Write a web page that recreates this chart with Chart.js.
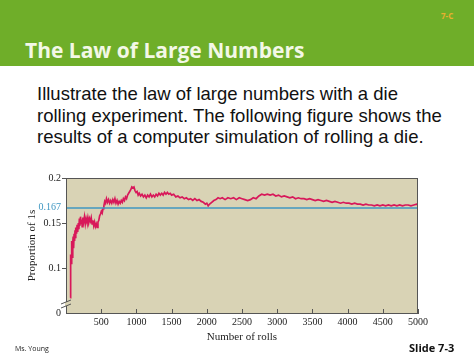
<!DOCTYPE html>
<html lang="en">
<head>
    <meta charset="UTF-8">
    <title>The Law of Large Numbers</title>
    <style>
        body {
            margin: 0;
            width: 474px;
            height: 355px;
            overflow: hidden;
            background: #ffffff;
            position: relative;
            font-family: "Liberation Sans", Arial, sans-serif;
        }
        .header {
            position: absolute;
            left: 0; top: 0;
            width: 474px; height: 66px;
            background: #6fae29;
        }
        .title {
            position: absolute;
            left: 25px; top: 36px;
            font-family: "Open Sans", "DejaVu Sans", sans-serif;
            font-weight: bold;
            font-size: 21px;
            color: #f3f8e6;
            white-space: nowrap;
        }
        .code {
            position: absolute;
            left: 441px; top: 10px;
            font-family: "Open Sans", sans-serif;
            font-weight: bold;
            font-size: 8px;
            color: #e8b030;
        }
        .body-text {
            position: absolute;
            left: 37px; top: 83px;
            font-size: 18.5px;
            line-height: 21.5px;
            color: #111;
            white-space: nowrap;
        }
        .footer-left {
            position: absolute;
            left: 15px; top: 344px;
            font-family: "Open Sans", sans-serif;
            font-size: 7px;
            color: #222;
        }
        .footer-right {
            position: absolute;
            left: 409px; top: 340px;
            font-family: "Open Sans", sans-serif;
            font-weight: bold;
            font-size: 11px;
            color: #111;
        }
        #rollsChart {
            position: absolute;
            left: 0; top: 165px;
        }
    </style>
</head>
<body>

<div class="header"></div>
<div class="code">7-C</div>
<div class="title">The Law of Large Numbers</div>
<div class="body-text">Illustrate the law of large numbers with a die<br>rolling experiment. The following figure shows the<br>results of a computer simulation of rolling a die.</div>
<canvas id="rollsChart" width="474" height="190"></canvas>
<div class="footer-left">Ms. Young</div>
<div class="footer-right">Slide 7-3</div>

<script src="https://cdn.jsdelivr.net/npm/chart.js"></script>
<script>
    // number of rolls (x) and running proportion of 1s (y)
    const rolls = [
        60, 64, 68, 72, 78, 84, 90, 96, 102, 108, 115, 122, 128, 135, 142, 150, 158, 166, 175, 183,
        190, 198, 206, 214, 222, 230, 240, 250, 262, 274, 286, 298, 310, 322, 334, 346, 358, 370, 382, 394,
        406, 418, 430, 442, 454, 466, 478, 490, 502, 514, 526, 538, 550, 562, 575, 590, 605, 620, 635, 650,
        665, 680, 695, 710, 725, 740, 755, 770, 785, 800, 815, 830, 845, 860, 875, 890, 905, 920, 935, 950,
        965, 980, 995, 1010, 1025, 1040, 1060, 1080, 1100, 1120, 1140, 1160, 1180, 1200, 1220, 1240, 1260, 1280, 1300, 1320,
        1340, 1360, 1380, 1400, 1420, 1440, 1460, 1480, 1500, 1530, 1560, 1590, 1620, 1650, 1680, 1710, 1740, 1770, 1800, 1830,
        1860, 1890, 1920, 1950, 1980, 2000, 2020, 2040, 2070, 2100, 2130, 2160, 2190, 2220, 2260, 2300, 2340, 2380, 2420, 2460,
        2500, 2540, 2580, 2620, 2660, 2700, 2740, 2780, 2820, 2860, 2900, 2940, 2980, 3020, 3060, 3100, 3140, 3180, 3220, 3260,
        3300, 3340, 3380, 3420, 3460, 3500, 3540, 3580, 3620, 3660, 3700, 3740, 3780, 3820, 3860, 3900, 3940, 3980, 4020, 4060,
        4100, 4140, 4180, 4220, 4260, 4300, 4340, 4380, 4420, 4460, 4500, 4540, 4580, 4620, 4660, 4700, 4740, 4780, 4820, 4860,
        4900, 4940, 4980, 5000
    ];
    const proportion = [
        0.067, 0.090, 0.115, 0.105, 0.120, 0.130, 0.112, 0.128, 0.135, 0.122, 0.138, 0.130, 0.142, 0.133, 0.145, 0.138, 0.148, 0.140, 0.150, 0.143,
        0.155, 0.147, 0.157, 0.150, 0.154, 0.146, 0.156, 0.151, 0.157, 0.149, 0.155, 0.151, 0.156, 0.150, 0.155, 0.152, 0.156, 0.149, 0.153, 0.147,
        0.151, 0.146, 0.149, 0.145, 0.151, 0.153, 0.158, 0.160, 0.163, 0.161, 0.166, 0.169, 0.174, 0.172, 0.177, 0.173, 0.176, 0.172, 0.175, 0.172,
        0.176, 0.173, 0.177, 0.172, 0.175, 0.171, 0.174, 0.172, 0.175, 0.173, 0.177, 0.175, 0.179, 0.177, 0.181, 0.183, 0.185, 0.187, 0.190, 0.189,
        0.190, 0.186, 0.184, 0.185, 0.181, 0.183, 0.180, 0.182, 0.179, 0.181, 0.178, 0.181, 0.179, 0.182, 0.179, 0.181, 0.179, 0.182, 0.180, 0.183,
        0.181, 0.183, 0.181, 0.184, 0.182, 0.184, 0.182, 0.183, 0.181, 0.182, 0.179, 0.180, 0.178, 0.179, 0.177, 0.178, 0.176, 0.177, 0.175, 0.177,
        0.175, 0.176, 0.174, 0.173, 0.171, 0.172, 0.169, 0.171, 0.173, 0.175, 0.176, 0.178, 0.177, 0.178, 0.176, 0.178, 0.177, 0.178, 0.176, 0.178,
        0.177, 0.176, 0.175, 0.176, 0.178, 0.177, 0.180, 0.182, 0.181, 0.182, 0.181, 0.182, 0.180, 0.181, 0.179, 0.180, 0.179, 0.178, 0.179, 0.177,
        0.178, 0.177, 0.177, 0.176, 0.177, 0.176, 0.175, 0.176, 0.175, 0.174, 0.175, 0.174, 0.173, 0.174, 0.173, 0.172, 0.173, 0.172, 0.172, 0.171,
        0.172, 0.171, 0.171, 0.170, 0.171, 0.170, 0.170, 0.169, 0.170, 0.169, 0.170, 0.169, 0.170, 0.169, 0.170, 0.169, 0.170, 0.169, 0.170, 0.170,
        0.169, 0.170, 0.171, 0.170
    ];
    const expectedValue = 1 / 6;      // drawn as 0.167 reference line
    const expectedRange = [0, 5000];
    const yTicks = [0.05, 0.1, 0.15, 0.167, 0.2];   // 0.05 is shown as "0" (broken axis)
    const xMax = 5000;

    const plotBg = '#d9d3b5';
    const frameColor = '#555555';
    const blue = '#3f97c2';

    // tan plot background, box frame, inward x ticks, axis break
    const framePlugin = {
        id: 'frame',
        beforeDatasetsDraw(chart) {
            const a = chart.chartArea;
            const c = chart.ctx;
            c.save();
            c.fillStyle = plotBg;
            c.fillRect(a.left, a.top, a.right - a.left, a.bottom - a.top);
            c.restore();
        },
        afterDraw(chart) {
            const a = chart.chartArea;
            const c = chart.ctx;
            const xs = chart.scales.x;
            c.save();
            c.strokeStyle = frameColor;
            c.lineWidth = 1;
            c.strokeRect(a.left + 0.5, a.top + 0.5, a.right - a.left - 1, a.bottom - a.top);
            // ticks pointing up from the bottom axis
            xs.ticks.forEach(t => {
                if (t.value === 0) return;
                const px = Math.round(xs.getPixelForValue(t.value)) + 0.5;
                c.beginPath();
                c.moveTo(px, a.bottom);
                c.lineTo(px, a.bottom - 4);
                c.stroke();
            });
            // break on the y axis near the bottom
            const yb = a.bottom - 9;
            c.fillStyle = plotBg;
            c.fillRect(a.left - 1, yb - 2, 3, 4);
            c.beginPath();
            c.moveTo(a.left - 5, yb - 0);
            c.lineTo(a.left + 5, yb - 4);
            c.moveTo(a.left - 5, yb + 4);
            c.lineTo(a.left + 5, yb + 0);
            c.stroke();
            c.restore();
        }
    };

    const serif = '"Liberation Serif", "DejaVu Serif", serif';

    new Chart(document.getElementById('rollsChart').getContext('2d'), {
        type: 'line',
        data: {
            datasets: [{
                data: expectedRange.map(x => ({ x: x, y: expectedValue })),
                borderColor: blue,
                borderWidth: 1.5,
                pointRadius: 0
            }, {
                data: rolls.map((r, i) => ({ x: r, y: proportion[i] })),
                borderColor: '#d8185a',
                borderWidth: 1.7,
                pointRadius: 0,
                tension: 0
            }]
        },
        options: {
            responsive: false,
            animation: false,
            devicePixelRatio: 1,
            layout: { padding: { top: 13, right: 56, bottom: 0, left: 0 } },
            plugins: {
                legend: { display: false },
                tooltip: { enabled: false }
            },
            scales: {
                x: {
                    type: 'linear',
                    min: 0,
                    max: xMax,
                    afterFit(scale) { scale.height = 42; },
                    ticks: {
                        stepSize: 500,
                        padding: 3,
                        maxRotation: 0,
                        color: '#222',
                        font: { family: serif, size: 10 },
                        callback: v => v === 0 ? '' : v
                    },
                    grid: { drawOnChartArea: false, drawTicks: false },
                    border: { color: frameColor },
                    title: {
                        display: true,
                        text: 'Number of rolls',
                        color: '#222',
                        font: { family: serif, size: 11 },
                        padding: { top: 0, bottom: 11 }
                    }
                },
                y: {
                    type: 'linear',
                    min: 0.05,
                    max: 0.2,
                    afterFit(scale) { scale.width = 66; },
                    afterBuildTicks(scale) {
                        scale.ticks = yTicks.map(v => ({ value: v }));
                    },
                    ticks: {
                        padding: 1,
                        font: { family: serif, size: 10 },
                        color: ctx => ctx.tick.value === 0.167 ? blue : '#222',
                        callback: v => v === 0.05 ? '0' : String(v)
                    },
                    grid: {
                        drawOnChartArea: false,
                        tickLength: 4,
                        color: ctx => (ctx.tick && (ctx.tick.value === 0.167 || ctx.tick.value === 0.05)) ? 'rgba(0,0,0,0)' : frameColor
                    },
                    border: { color: frameColor },
                    title: {
                        display: true,
                        text: 'Proportion of 1s',
                        color: '#222',
                        font: { family: serif, size: 11 },
                        padding: { top: 26, bottom: 0 }
                    }
                }
            }
        },
        plugins: [framePlugin]
    });
</script>

</body>
</html>
